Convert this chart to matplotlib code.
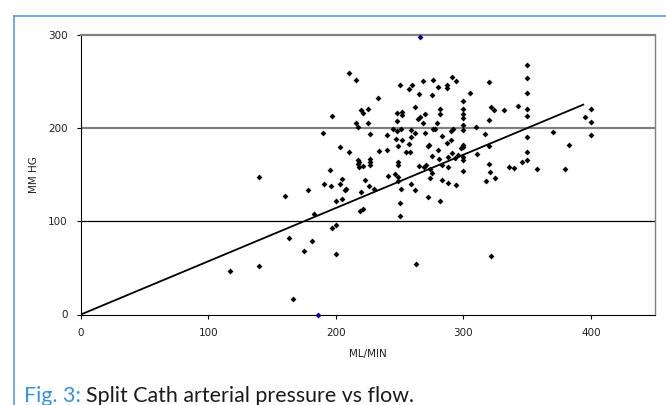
import numpy as np
import matplotlib
matplotlib.use("Agg")
import matplotlib.pyplot as plt
from matplotlib.lines import Line2D

# flow (ml/min) and arterial pressure (mm Hg)
flow = [117, 140, 140, 160, 163, 166, 175, 178, 181, 183, 190, 191, 195, 196, 197,
        197, 200, 200, 200, 203, 203, 205, 205, 207, 208, 210, 210, 216, 216, 217,
        217, 217, 218, 218, 219, 220, 220, 221, 221, 221, 223, 225, 225, 226, 227,
        227, 227, 227, 230, 233, 234, 240, 240, 241, 245, 246, 247, 248, 248, 248,
        249, 249, 249, 249, 249, 250, 250, 250, 251, 251, 252, 252, 252, 255, 257,
        258, 257, 259, 259, 259, 260, 262, 262, 262, 263, 264, 265, 265, 266, 268,
        268, 269, 270, 270, 271, 272, 272, 273, 274, 274, 275, 275, 275, 276, 276,
        278, 279, 280, 280, 281, 282, 282, 282, 283, 283, 283, 287, 287, 287, 288,
        288, 288, 290, 290, 291, 291, 292, 293, 294, 294, 296, 298, 300, 300, 300,
        300, 300, 300, 300, 300, 300, 300, 300, 305, 310, 311, 317, 318, 320, 320,
        320, 320, 321, 322, 322, 324, 325, 332, 336, 340, 343, 346, 350, 350, 350,
        350, 350, 350, 350, 350, 358, 370, 380, 383, 395, 400, 400, 400]
pressure = [47, 147, 52, 127, 82, 17, 68, 133, 79, 108, 195, 140, 155, 138, 213,
            93, 122, 96, 65, 180, 140, 145, 124, 133, 135, 259, 174, 251, 205, 201,
            166, 161, 164, 158, 111, 219, 131, 216, 159, 113, 144, 220, 205, 138, 193,
            167, 160, 164, 135, 232, 175, 192, 176, 149, 199, 151, 188, 216, 208, 197,
            181, 164, 160, 147, 143, 246, 120, 106, 199, 135, 217, 214, 187, 174, 242,
            174, 183, 140, 198, 190, 246, 222, 195, 134, 54, 210, 236, 159, 212, 250,
            205, 158, 215, 195, 160, 181, 126, 182, 156, 146, 170, 152, 235, 251, 199,
            199, 205, 176, 244, 167, 220, 215, 122, 191, 160, 144, 246, 243, 184, 169,
            141, 158, 187, 197, 255, 173, 199, 168, 250, 139, 171, 179, 229, 220, 215,
            211, 203, 198, 182, 169, 166, 154, 180, 237, 201, 172, 193, 143, 249, 209,
            181, 161, 153, 63, 222, 219, 146, 219, 158, 157, 224, 164, 267, 254, 238,
            220, 213, 190, 174, 166, 156, 196, 156, 182, 212, 220, 206, 192]

# two points drawn in dark blue in the original
edge_flow = [186, 266]
edge_pressure = [0, 297]

# trend line end points
trend_x = [0, 394]
trend_y = [0, 225]

x_ticks = [0, 100, 200, 300, 400]
y_ticks = [0, 100, 200, 300]

fig = plt.figure(figsize=(6.66, 4.05), dpi=100)
ax = fig.add_axes([80.9 / 666, 1 - 314.5 / 405, (654.7 - 80.9) / 666, (314.5 - 34.7) / 405])

ax.axhline(100, color="black", lw=0.9, zorder=1)
ax.axhline(200, color="#808080", lw=1.6, zorder=1)

ax.plot(trend_x, trend_y, color="black", lw=1.3, zorder=2)
ax.scatter(flow, pressure, marker="D", s=9, color="black", linewidths=0, zorder=3)
ax.scatter(edge_flow, edge_pressure, marker="D", s=9, color="#000080", linewidths=0,
           zorder=3, clip_on=False)

ax.set_xlim(0, 450)
ax.set_ylim(0, 300)
ax.set_xticks(x_ticks)
ax.set_yticks(y_ticks)
ax.tick_params(direction="out", length=3, width=0.8, labelsize=7.5, colors="black")
ax.tick_params(axis="x", pad=6.5)
ax.tick_params(axis="y", pad=6.5)
for lab in ax.get_xticklabels() + ax.get_yticklabels():
    lab.set_color("#222222")

ax.spines["left"].set_color("black")
ax.spines["bottom"].set_color("black")
ax.spines["top"].set_color("#808080")
ax.spines["right"].set_color("#808080")
ax.spines["top"].set_linewidth(1.6)
ax.spines["right"].set_linewidth(1.0)

ax.set_xlabel("ML/MIN", fontsize=7.5, labelpad=8, color="#222222")
ax.set_ylabel("MM HG", fontsize=7.5, labelpad=6.5, color="#222222")

# light blue frame around the figure box
blue = "#5b9bd5"
fig.add_artist(Line2D([14 / 666, 1], [1 - 16 / 405, 1 - 16 / 405], color=blue, lw=1.2))
fig.add_artist(Line2D([14 / 666, 14 / 666], [0, 1 - 16 / 405], color=blue, lw=1.2))

# caption, first part blue, rest dark
cap_y = 1 - 402 / 405
t1 = fig.text(24 / 666, cap_y, "Fig. 3: ", fontsize=15.4, color="#3d8fd6",
              family="Lato", va="baseline")
fig.canvas.draw()
bb = t1.get_window_extent()
fig.text(bb.x1 / fig.bbox.width, cap_y, "Split Cath arterial pressure vs flow.",
         fontsize=15.4, color="#1a1a1a", family="Lato", va="baseline")

fig.savefig("out.png", dpi=100)
